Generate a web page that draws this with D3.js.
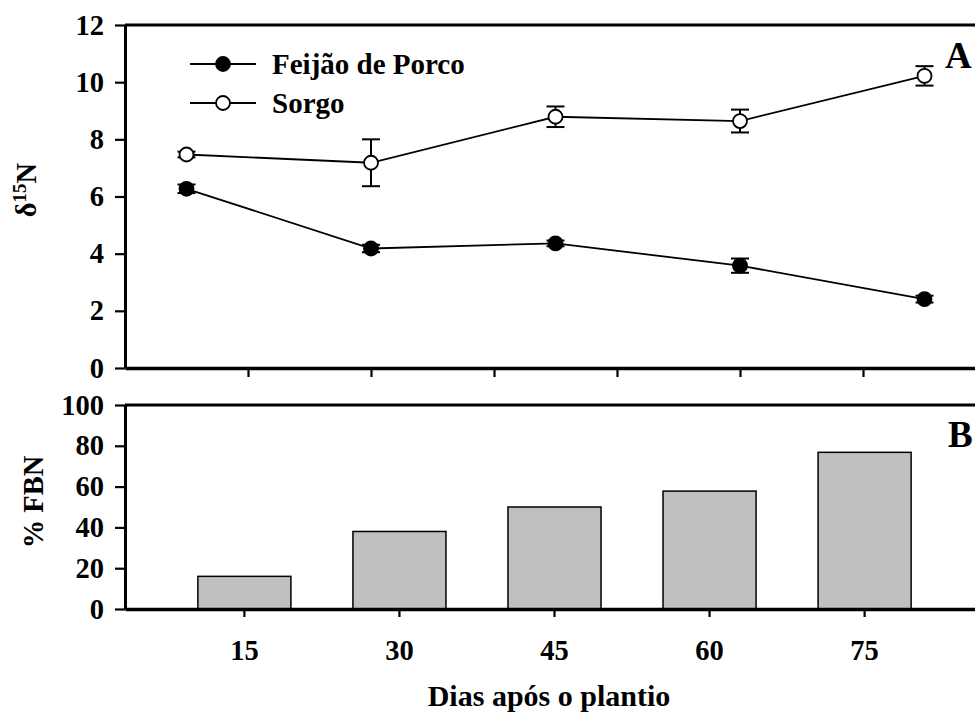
<!DOCTYPE html>
<html>
<head>
<meta charset="utf-8">
<script src="https://cdn.jsdelivr.net/npm/d3@7"></script>
<style>
	body { margin: 0; background: #fff; }
	svg text { font-family: "Liberation Serif", "Times New Roman", serif; font-weight: bold; fill: #000; }
</style>
</head>
<body>
<svg></svg>
<script>

	var days = [15, 30, 45, 60, 75];
	var feijao = [6.27, 4.18, 4.36, 3.58, 2.41];
	var feijaoErr = [0.15, 0.13, 0.1, 0.25, 0.12];
	var sorgo = [7.47, 7.18, 8.79, 8.64, 10.22];
	var sorgoErr = [0.1, 0.82, 0.36, 0.4, 0.34];
	var fbn = [16, 38, 50, 57.8, 76.8];

	var ticksA = [0, 2, 4, 6, 8, 10, 12];
	var ticksXA = [20, 30, 40, 50, 60, 70];
	var ticksB = [0, 20, 40, 60, 80, 100];

	var width = 975,
		height = 713;

	var svg = d3.select("svg")
		.attr("width", width)
		.attr("height", height);

	// panel A scales
	var xA = d3.scaleLinear().domain([10, 80]).range([125, 986]);
	var yA = d3.scaleLinear().domain([0, 12]).range([368, 25]);

	// panel B scales
	var xB = d3.scaleBand().domain(days).range([125, 984]).paddingInner(0.4).paddingOuter(0.47);
	var yB = d3.scaleLinear().domain([0, 100]).range([609, 405]);

	var styleAxis = function(g, w) {
		g.attr("font-family", null);
		g.select(".domain").attr("stroke-width", w);
		g.selectAll(".tick line").attr("stroke-width", 2.2);
		g.selectAll(".tick text").attr("font-size", 28.5);
	}

	// ---- panel A ----
	var gA = svg.append("g");

	gA.append("line")
		.attr("x1", xA.range()[0]).attr("x2", xA.range()[1])
		.attr("y1", yA(12)).attr("y2", yA(12))
		.attr("stroke", "#000").attr("stroke-width", 3);

	gA.append("g")
		.attr("transform", "translate(125,0)")
		.call(d3.axisLeft(yA).tickValues(ticksA).tickSize(10).tickPadding(11).tickSizeOuter(0))
		.call(styleAxis, 3);

	gA.append("g")
		.attr("transform", "translate(0," + yA(0) + ")")
		.call(d3.axisBottom(xA).tickValues(ticksXA).tickFormat("").tickSize(9).tickSizeOuter(0))
		.call(styleAxis, 3.5);

	var series = [
		{ name: "Feijão de Porco", values: feijao, err: feijaoErr, fill: "#000" },
		{ name: "Sorgo", values: sorgo, err: sorgoErr, fill: "#fff" }
	];

	var line = d3.line()
		.x(function(d, i) { return xA(days[i]); })
		.y(function(d) { return yA(d); });

	series.forEach(function(s) {
		var g = gA.append("g");

		g.append("path")
			.attr("d", line(s.values))
			.attr("fill", "none")
			.attr("stroke", "#000")
			.attr("stroke-width", 1.8);

		var eb = g.selectAll(".err").data(s.values).enter().append("g");
		eb.append("line")
			.attr("x1", function(d, i) { return xA(days[i]); })
			.attr("x2", function(d, i) { return xA(days[i]); })
			.attr("y1", function(d, i) { return yA(d + s.err[i]); })
			.attr("y2", function(d, i) { return yA(d - s.err[i]); })
			.attr("stroke", "#000").attr("stroke-width", 2);
		[1, -1].forEach(function(sign) {
			eb.append("line")
				.attr("x1", function(d, i) { return xA(days[i]) - 9; })
				.attr("x2", function(d, i) { return xA(days[i]) + 9; })
				.attr("y1", function(d, i) { return yA(d + sign * s.err[i]); })
				.attr("y2", function(d, i) { return yA(d + sign * s.err[i]); })
				.attr("stroke", "#000").attr("stroke-width", 2);
		});

		g.selectAll("circle").data(s.values).enter().append("circle")
			.attr("cx", function(d, i) { return xA(days[i]); })
			.attr("cy", function(d) { return yA(d); })
			.attr("r", 7)
			.attr("fill", s.fill)
			.attr("stroke", "#000")
			.attr("stroke-width", 1.8);
	});

	// legend
	var legend = gA.append("g");
	series.forEach(function(s, i) {
		var ly = 64 + i * 39;
		legend.append("line")
			.attr("x1", 190).attr("x2", 256).attr("y1", ly).attr("y2", ly)
			.attr("stroke", "#000").attr("stroke-width", 1.8);
		legend.append("circle")
			.attr("cx", 223).attr("cy", ly).attr("r", 7)
			.attr("fill", s.fill).attr("stroke", "#000").attr("stroke-width", 1.8);
		legend.append("text")
			.attr("x", 272).attr("y", ly).attr("dy", "0.34em")
			.attr("font-size", 29)
			.text(s.name);
	});

	gA.append("text")
		.attr("x", 945).attr("y", 68)
		.attr("font-size", 37)
		.text("A");

	var titleA = gA.append("text")
		.attr("transform", "translate(36,190) rotate(-90)")
		.attr("text-anchor", "middle")
		.attr("font-size", 28.5);
	titleA.append("tspan").text("δ");
	titleA.append("tspan").attr("font-size", 19).attr("dy", "-0.55em").text("15");
	titleA.append("tspan").attr("dy", "0.38em").text("N");

	// ---- panel B ----
	var gB = svg.append("g");

	gB.append("line")
		.attr("x1", 125).attr("x2", 986)
		.attr("y1", yB(100)).attr("y2", yB(100))
		.attr("stroke", "#000").attr("stroke-width", 3);

	gB.selectAll(".bar").data(fbn).enter().append("rect")
		.attr("class", "bar")
		.attr("x", function(d, i) { return xB(days[i]); })
		.attr("width", xB.bandwidth())
		.attr("y", function(d) { return yB(d); })
		.attr("height", function(d) { return yB(0) - yB(d); })
		.attr("fill", "#c0c0c0")
		.attr("stroke", "#000")
		.attr("stroke-width", 1.5);

	gB.append("g")
		.attr("transform", "translate(125,0)")
		.call(d3.axisLeft(yB).tickValues(ticksB).tickSize(10).tickPadding(11).tickSizeOuter(0))
		.call(styleAxis, 3);

	gB.append("g")
		.attr("transform", "translate(0," + yB(0) + ")")
		.call(d3.axisBottom(xB).tickSize(8).tickPadding(23).tickSizeOuter(0))
		.call(styleAxis, 3.5);

	gB.append("text")
		.attr("x", 948).attr("y", 447)
		.attr("font-size", 37)
		.text("B");

	gB.append("text")
		.attr("transform", "translate(43,502) rotate(-90)")
		.attr("text-anchor", "middle")
		.attr("font-size", 28.5)
		.text("% FBN");

	svg.append("text")
		.attr("x", 549).attr("y", 706)
		.attr("text-anchor", "middle")
		.attr("font-size", 30)
		.text("Dias após o plantio");

</script>
</body>
</html>
